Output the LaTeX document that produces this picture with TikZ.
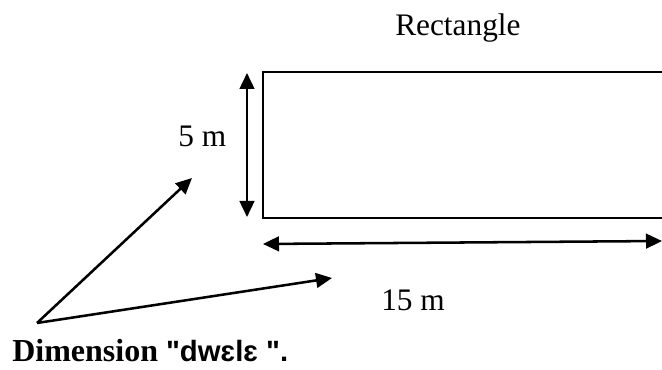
\documentclass[tikz,border=0pt]{standalone}
\usepackage{fontspec}
\setmainfont{Liberation Serif}
\newfontfamily\ipafont{Liberation Sans}
\usetikzlibrary{arrows.meta}

\begin{document}
\begin{tikzpicture}[x=0.75pt,y=-0.75pt,
  dimline/.style={line width=1.9pt, {Triangle[length=12pt,width=11pt]}-{Triangle[length=12pt,width=11pt]}},
  pointer/.style={line width=1.9pt, -{Triangle[length=12pt,width=11pt]}},
  dimtext/.style={font=\fontsize{23.5}{28}\selectfont, inner sep=0pt, anchor=base west}]
  \useasboundingbox (0,0) rectangle (662,370);
  \clip (0,0) rectangle (662,370);

% field
  \draw[line width=1.1pt] (263,72) rectangle (680,218);
  \node[dimtext] (title) at (395,36) {Rectangle};

% width and length
  \coordinate (wtop) at (247,73);
  \coordinate (wbot) at (247,217);
  \draw[dimline] (wbot) -- (wtop);
  \node[dimtext] (width) at (178,147) {5 m};

  \coordinate (lleft) at (263,244);
  \coordinate (lright) at (662,241);
  \draw[dimline] (lleft) -- (lright);
  \node[dimtext] (length) at (381,311) {15 m};

% pointers
  \coordinate (src) at (37,323);
  \coordinate (ptwidth) at (192,178);
  \coordinate (ptlength) at (332,278);
  \draw[pointer] (src) -- (ptwidth);
  \draw[pointer] (src) -- (ptlength);

  \node[dimtext, font=\fontsize{24}{28}\selectfont\bfseries] (caption) at (12,362)
    {Dimension {\ipafont\fontsize{22}{28}\selectfont "dwɛlɛ ".}};
\end{tikzpicture}
\end{document}
